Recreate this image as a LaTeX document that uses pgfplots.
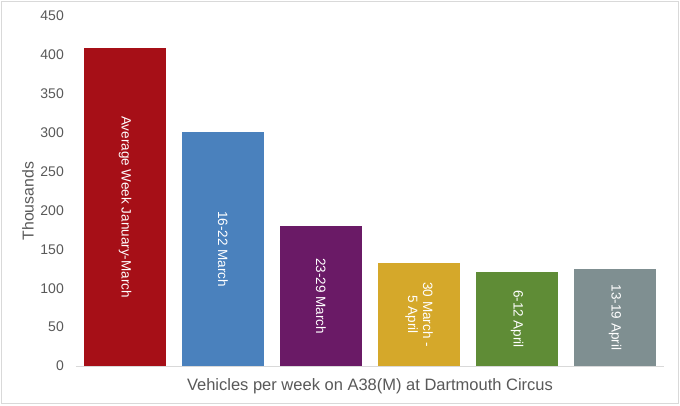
\documentclass[border=0pt]{standalone}
\usepackage{pgfplots}
\pgfplotsset{compat=1.18}
\usepackage{fontspec}
\setmainfont{Liberation Sans}
\definecolor{txt}{RGB}{89,89,89}
\definecolor{axl}{RGB}{217,217,217}
\definecolor{c1}{RGB}{166,15,23}
\definecolor{c2}{RGB}{74,129,189}
\definecolor{c3}{RGB}{106,26,102}
\definecolor{c4}{RGB}{213,168,42}
\definecolor{c5}{RGB}{95,140,54}
\definecolor{c6}{RGB}{127,143,145}
\pgfplotsset{
  barlabel/.style={
    nodes near coords={#1},
    visualization depends on=rawy\as\rawy,
    every node near coord/.append style={
      shift={(axis direction cs:0,-\rawy/2)},
      anchor=center, rotate=-90, align=center,
      text=white, font=\fontsize{13.5}{15}\selectfont, inner sep=0pt}
  }
}
\begin{document}
\begin{tikzpicture}
\useasboundingbox (0,0) rectangle (680pt,405pt);
\fill[white] (0,0) rectangle (680pt,405pt);
\draw[axl, line width=1pt] (1.5pt,1.5pt) rectangle (678.5pt,403.5pt);
\begin{axis}[
  at={(76pt,39pt)}, anchor=south west,
  scale only axis, width=588pt, height=350pt,
  xmin=-0.5, xmax=5.5, ymin=0, ymax=450,
  ytick={0,50,...,450},
  xtick=\empty,
  major tick length=0pt,
  axis lines=left,
  y axis line style={draw=none},
  x axis line style={axl, line width=1pt, -},
  ybar, bar width=0.83, bar shift=0pt,
  ytick style={draw=none},
  yticklabel style={anchor=east, inner sep=0pt, xshift=-12pt,
    font=\fontsize{14}{16}\selectfont, text=txt},
  /pgf/number format/assume math mode=true,
  ylabel={Thousands},
  ylabel style={at={(axis description cs:-0.0816,0.471)}, anchor=center,
    rotate=0, font=\fontsize{15.8}{18}\selectfont, text=txt},
  xlabel={Vehicles per week on A38(M) at Dartmouth Circus},
  xlabel style={at={(axis description cs:0.5,-0.057)}, anchor=center,
    font=\fontsize{16.5}{18}\selectfont, text=txt},
  clip=false,
]
\addplot[fill=c1, draw=none, barlabel={Average Week January-March}] coordinates {(0,409)};
\addplot[fill=c2, draw=none, barlabel={16-22 March}] coordinates {(1,301)};
\addplot[fill=c3, draw=none, barlabel={23-29 March}] coordinates {(2,180)};
\addplot[fill=c4, draw=none, barlabel={30 March -\\5 April}] coordinates {(3,132)};
\addplot[fill=c5, draw=none, barlabel={6-12 April}] coordinates {(4,121)};
\addplot[fill=c6, draw=none, barlabel={13-19 April}] coordinates {(5,125)};
\end{axis}
\end{tikzpicture}
\end{document}
